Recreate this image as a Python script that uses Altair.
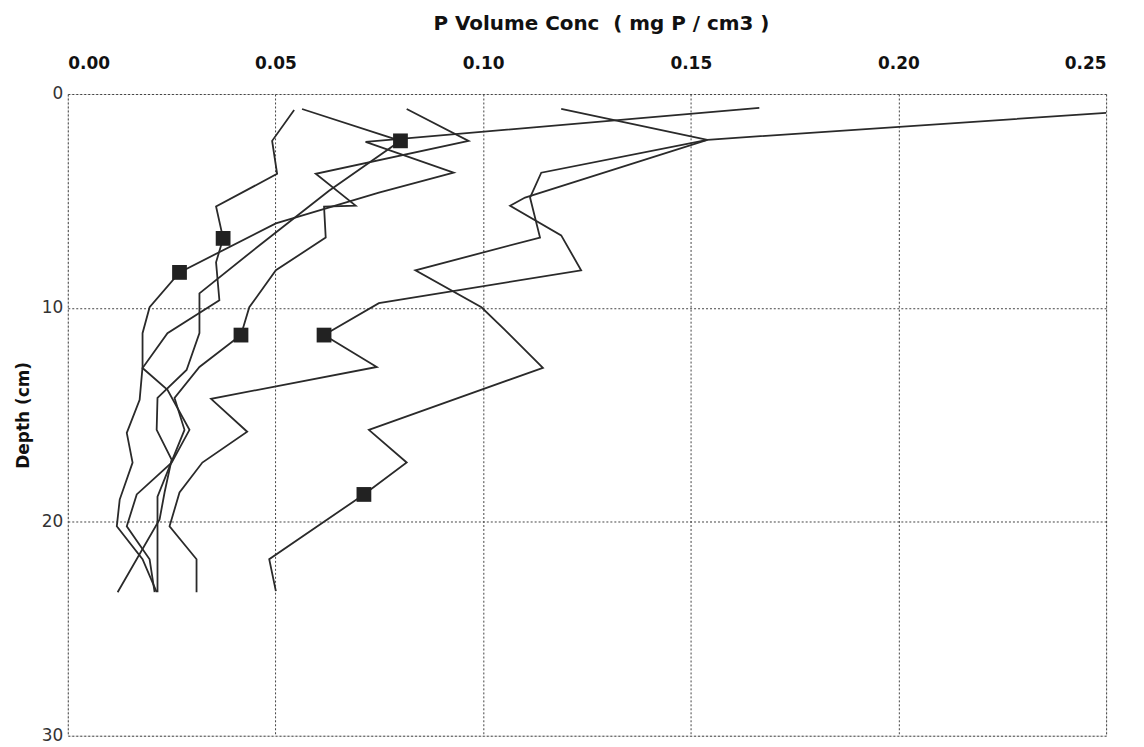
import altair as alt
import pandas as pd

# P volume concentration (mg P / cm3) vs depth (cm), six profiles; one marked point each
x1 = [0.2500, 0.1540, 0.1101, 0.1065, 0.1188, 0.1236, 0.0749, 0.0617, 0.0744, 0.0345, 0.0432, 0.0324, 0.0269, 0.0245, 0.0310, 0.0310]
d1 = [0.88, 2.14, 4.84, 5.22, 6.61, 8.24, 9.78, 11.27, 12.76, 14.25, 15.79, 17.23, 18.63, 20.21, 21.75, 23.29]
m1 = 7

x2 = [0.1188, 0.1540, 0.1140, 0.1113, 0.1137, 0.0837, 0.0996, 0.1053, 0.1144, 0.0725, 0.0816, 0.0713, 0.0485, 0.0501]
d2 = [0.70, 2.14, 3.68, 4.84, 6.71, 8.24, 9.97, 11.04, 12.80, 15.70, 17.23, 18.72, 21.75, 23.24]
m2 = 11

x3 = [0.1665, 0.0717, 0.0929, 0.0749, 0.0501, 0.0269, 0.0197, 0.0180, 0.0180, 0.0173, 0.0142, 0.0156, 0.0125, 0.0118, 0.0180, 0.0214]
d3 = [0.65, 2.24, 3.68, 4.61, 6.05, 8.34, 9.97, 11.18, 12.76, 14.30, 15.84, 17.23, 18.96, 20.21, 21.75, 23.29]
m3 = 5

x4 = [0.0816, 0.0965, 0.0597, 0.0693, 0.0617, 0.0621, 0.0501, 0.0437, 0.0417, 0.0317, 0.0257, 0.0281, 0.0245, 0.0216, 0.0216]
d4 = [0.70, 2.19, 3.73, 5.22, 5.26, 6.71, 8.24, 9.97, 11.27, 12.76, 14.21, 15.70, 17.42, 18.82, 23.29]
m4 = 8

x5 = [0.0564, 0.0801, 0.0629, 0.0461, 0.0317, 0.0317, 0.0286, 0.0216, 0.0214, 0.0250, 0.0233, 0.0221, 0.0120]
d5 = [0.70, 2.19, 4.52, 7.08, 9.32, 11.18, 12.90, 14.21, 15.70, 17.09, 18.63, 19.89, 23.29]
m5 = 1

x6 = [0.0545, 0.0492, 0.0504, 0.0357, 0.0374, 0.0357, 0.0365, 0.0240, 0.0180, 0.0240, 0.0293, 0.0250, 0.0166, 0.0142, 0.0197, 0.0209]
d6 = [0.75, 2.19, 3.73, 5.26, 6.75, 7.87, 9.64, 11.18, 12.81, 13.83, 15.70, 17.23, 18.72, 20.21, 21.75, 23.29]
m6 = 4

series = [(x1, d1, m1), (x2, d2, m2), (x3, d3, m3), (x4, d4, m4), (x5, d5, m5), (x6, d6, m6)]

rows = []
for s, (xs, ds, mk) in enumerate(series):
    for i, (xv, dv) in enumerate(zip(xs, ds)):
        rows.append({"series": f"S{s+1}", "idx": i, "conc": xv, "depth": dv, "marker": i == mk})
df = pd.DataFrame(rows)

FONT = "DejaVu Sans"
xscale = alt.Scale(domain=[0, 0.25], nice=False, zero=False)
yscale = alt.Scale(domain=[0, 30], reverse=True, nice=False)

xaxis = alt.Axis(
    orient="top", values=[0, 0.05, 0.10, 0.15, 0.20, 0.25], format=".2f",
    title="P Volume Conc \u00a0( mg P / cm3 )", titleFont=FONT, titleFontSize=20,
    titleFontWeight="bold", titleColor="#111", titlePadding=21,
    titleX=535, titleAnchor="middle",
    labelFont=FONT, labelFontSize=17, labelFontWeight="bold", labelColor="#111",
    labelPadding=22, ticks=False, domain=False,
    grid=True, gridDash=[2, 2], gridColor="#444", gridWidth=1,
)
yaxis = alt.Axis(
    values=[0, 10, 20, 30], title="Depth (cm)", titleFont=FONT, titleFontSize=17,
    titleFontWeight="bold", titleColor="#111", titlePadding=9,
    labelFont=FONT, labelFontSize=17, labelColor="#333", labelPadding=5,
    ticks=False, domain=False, grid=True, gridDash=[2, 2], gridColor="#444", gridWidth=1,
)

base = alt.Chart(df)
lines = base.mark_line(color="#2a2a2a", strokeWidth=1.8).encode(
    x=alt.X("conc:Q", scale=xscale, axis=xaxis),
    y=alt.Y("depth:Q", scale=yscale, axis=yaxis),
    detail="series:N",
    order="idx:Q",
)
marks = base.transform_filter("datum.marker").mark_square(color="#222", size=220, opacity=1).encode(
    x=alt.X("conc:Q", scale=xscale),
    y=alt.Y("depth:Q", scale=yscale),
)

chart = (lines + marks).properties(
    width=1042, height=644,
    autosize=alt.AutoSizeParams(type="none"),
    padding={"left": 60, "top": 85, "right": 30, "bottom": 10},
).configure_view(stroke="#222", strokeWidth=2).configure(background="white")

chart.save("out.html", embed_options={"renderer": "svg", "actions": False})
